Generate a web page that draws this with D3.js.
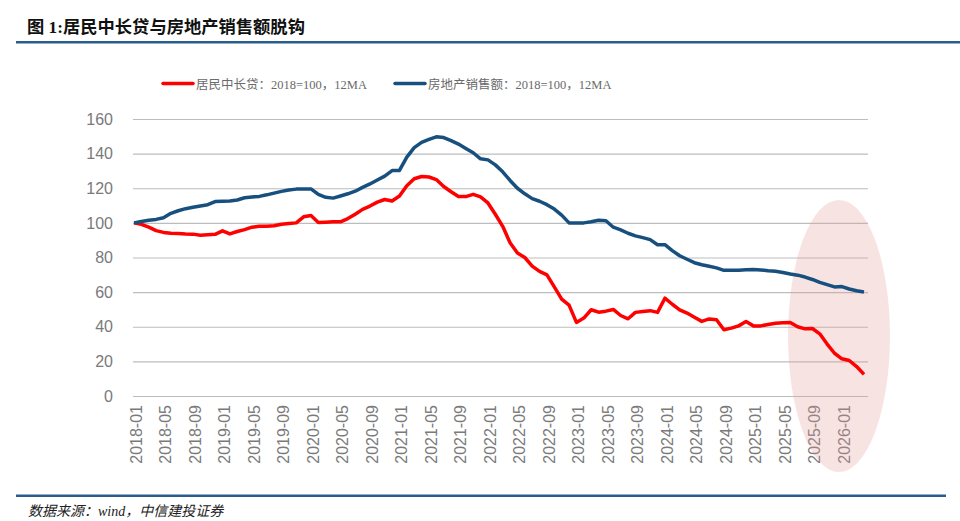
<!DOCTYPE html>
<html>
  <head>
    <meta charset="UTF-8" />
    <title>居民中长贷与房地产销售额脱钩</title>
    <style>
      body { margin: 0; background: #fff; }
      svg text { font-family: "Liberation Sans", Arial, sans-serif; }
    </style>
    <script src="https://d3js.org/d3.v7.min.js"></script>
  </head>
  <body>
    <svg id="viz" width="960" height="521"></svg>
    <script>
      // monthly categories 2018-01 .. 2026-04
      var months = d3.timeMonth.range(new Date(2018, 0, 1), new Date(2026, 4, 1)).map(d3.timeFormat("%Y-%m"));
      var tickLabels = ["2018-01","2018-05","2018-09","2019-01","2019-05","2019-09","2020-01","2020-05","2020-09",
        "2021-01","2021-05","2021-09","2022-01","2022-05","2022-09","2023-01","2023-05","2023-09",
        "2024-01","2024-05","2024-09","2025-01","2025-05","2025-09","2026-01"];
      var yTicks = [0, 20, 40, 60, 80, 100, 120, 140, 160];

      // 居民中长贷：2018=100，12MA
      var loans = [
        100, 99.2, 97.5, 95.5, 94.5, 94, 93.8, 93.6, 93.5, 92.9, 93.2, 93.4,
        95.4, 93.6, 95, 96.1, 97.5, 98, 98.1, 98.3, 99.2, 99.6, 100, 103.5,
        104.3, 100.2, 100.4, 100.6, 100.6, 102.5, 105, 107.8, 109.7, 112, 113.5, 112.6,
        115.5, 121.5, 125.5, 126.8, 126.5, 125, 121, 118, 115.2, 115.2, 116.5, 115,
        111.5, 105, 98, 88.5, 82.6, 80, 75, 72, 70, 63, 56, 52.5,
        42.5, 45, 49.8, 48.4, 49, 50, 46.5, 44.6, 48.3, 48.8, 49.3, 48.3,
        56.5, 53, 49.8, 47.9, 45.5, 43.1, 44.5, 44, 38.3, 39.2, 40.5, 43,
        40.5, 40.5, 41.3, 42, 42.3, 42.4, 40, 38.8, 39, 35.9, 30, 24.7,
        21.5, 20.5, 17, 12.5
      ];
      // 房地产销售额：2018=100，12MA
      var sales = [
        100, 100.8, 101.5, 102, 103, 105.5, 107, 108.2, 109, 109.8, 110.5, 112.3,
        112.5, 112.6, 113.2, 114.5, 115, 115.3, 116.2, 117.2, 118.2, 119, 119.5, 119.6,
        119.6, 116.5, 114.8, 114.3, 115.5, 116.8, 118.3, 120.5, 122.5, 124.8, 127, 130.2,
        130.3, 138, 143.5, 146.5, 148.2, 149.7, 149.3, 147.5, 145.5, 143, 140.5, 137,
        136.4, 133.5, 129.5, 124.5, 120, 116.8, 114, 112.5, 110.5, 108, 104.5, 100,
        100, 100, 100.6, 101.5, 101.2, 97.5, 96, 94, 92.5, 91.5, 90.3, 87.4,
        87.4, 84, 81, 79, 77, 75.8, 74.9, 74, 72.6, 72.6, 72.7, 72.9,
        73, 72.8, 72.3, 72, 71.3, 70.5, 69.8, 68.7, 67.3, 65.6, 64.3, 63,
        63.2, 61.8, 60.8, 60.1
      ];

      var svg = d3.select("#viz");
      var plotLeft = 134, plotRight = 868, plotTop = 119, plotBottom = 396;

      var x = d3.scaleLinear().domain([0, months.length - 1]).range([plotLeft, 864]);
      var y = d3.scaleLinear().domain([0, 160]).range([plotBottom, plotTop]);

      // title + rules
      svg.append("text").attr("x", 27).attr("y", 33)
        .style("font-family", "'Liberation Serif', 'Noto Sans CJK SC', serif")
        .style("font-size", "17.3px").style("font-weight", "bold").attr("fill", "#111")
        .text("图 1:居民中长贷与房地产销售额脱钩");
      svg.append("rect").attr("x", 16).attr("y", 41).attr("width", 944).attr("height", 2.5).attr("fill", "#2a5d8c");
      svg.append("rect").attr("x", 16).attr("y", 494.5).attr("width", 930).attr("height", 2.5).attr("fill", "#2a5d8c");
      svg.append("text").attr("x", 28).attr("y", 516)
        .style("font-family", "'Liberation Serif', 'Noto Sans CJK SC', serif")
        .style("font-size", "14px").style("font-style", "italic").attr("fill", "#222")
        .text("数据来源：wind，中信建投证券");

      // grid
      var yAxis = d3.axisLeft(y).tickValues(yTicks).tickSize(-(plotRight - plotLeft + 1)).tickPadding(20);
      var gy = svg.append("g").attr("transform", "translate(" + (plotLeft - 1) + ",0)").call(yAxis);
      gy.select(".domain").remove();
      gy.selectAll(".tick line").attr("stroke", "#bdbdbd").attr("stroke-width", 1.2);
      gy.selectAll(".tick text").attr("fill", "#7a7a7a").style("font-size", "16px");

      // x labels
      var xAxis = d3.axisBottom(x)
        .tickValues(tickLabels.map(function (t) { return months.indexOf(t); }))
        .tickFormat(function (i) { return months[i]; })
        .tickSize(0);
      var gx = svg.append("g").attr("transform", "translate(0," + plotBottom + ")").call(xAxis);
      gx.select(".domain").remove();
      gx.selectAll(".tick text")
        .attr("fill", "#7a7a7a").style("font-size", "16px")
        .attr("text-anchor", "end").attr("transform", "rotate(-90)")
        .attr("x", -9).attr("y", 0).attr("dy", "0.45em");

      // highlight ellipse
      svg.append("ellipse").attr("cx", 839).attr("cy", 336).attr("rx", 51).attr("ry", 136)
        .attr("fill", "#e69a9a").attr("fill-opacity", 0.28);

      var line = d3.line().x(function (d, i) { return x(i); }).y(function (d) { return y(d); });
      svg.append("path").datum(loans).attr("d", line).attr("fill", "none")
        .attr("stroke", "#ff0000").attr("stroke-width", 3.5).attr("stroke-linejoin", "round");
      svg.append("path").datum(sales).attr("d", line).attr("fill", "none")
        .attr("stroke", "#17507f").attr("stroke-width", 3.5).attr("stroke-linejoin", "round");

      // legend
      var legend = [
        { label: "居民中长贷：2018=100，12MA", color: "#ff0000", x: 163 },
        { label: "房地产销售额：2018=100，12MA", color: "#17507f", x: 395 }
      ];
      legend.forEach(function (l) {
        svg.append("line").attr("x1", l.x).attr("x2", l.x + 30).attr("y1", 83.5).attr("y2", 83.5)
          .attr("stroke", l.color).attr("stroke-width", 3.5).attr("stroke-linecap", "round");
        svg.append("text").attr("x", l.x + 33).attr("y", 88.5)
          .style("font-family", "'Liberation Serif', 'Noto Sans CJK SC', serif")
          .style("font-size", "12.5px").attr("fill", "#6a6a6a").text(l.label);
      });
    </script>
  </body>
</html>
